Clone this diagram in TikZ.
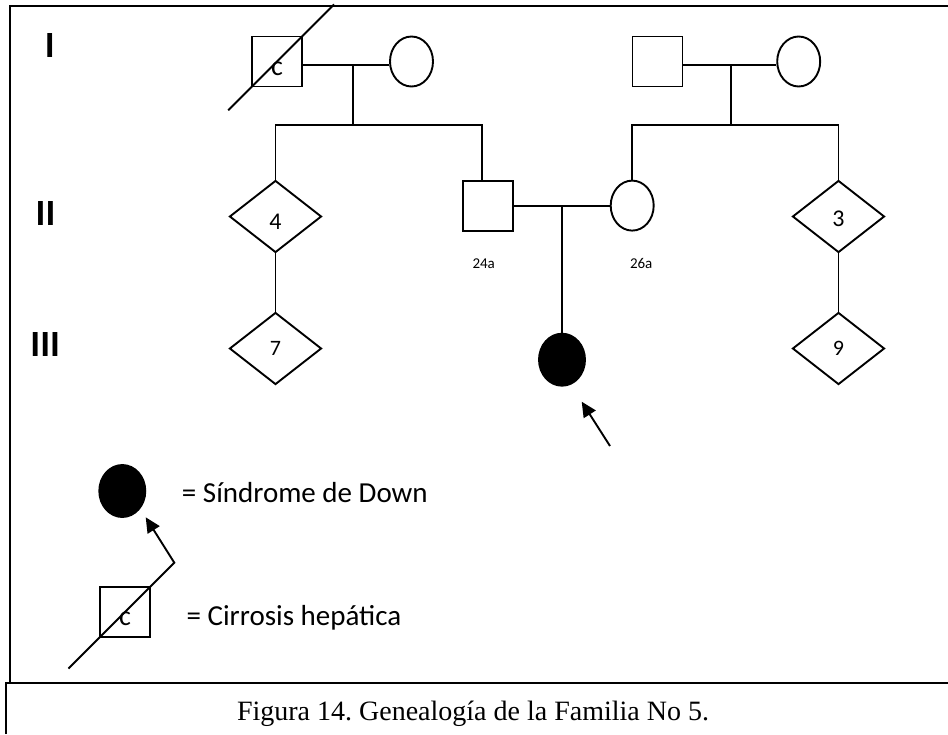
\documentclass[tikz,border=0pt]{standalone}
\usepackage{fontspec}
\setmainfont{Carlito}
\newfontfamily\capfont{Liberation Serif}
\usetikzlibrary{shapes.geometric,arrows.meta,calc}
\frenchspacing

\begin{document}
\begin{tikzpicture}[x=1pt,y=-1pt,line width=1.9pt,
  male/.style={draw, rectangle, minimum size=50pt, inner sep=0pt},
  female/.style={draw, ellipse, minimum width=43pt, minimum height=50pt, inner sep=0pt},
  unknown/.style={draw, diamond, minimum width=92pt, minimum height=72pt, inner sep=0pt},
  affected/.style={fill=black, minimum width=46pt, minimum height=52pt},
  cmark/.style={font=\fontsize{28}{30}\selectfont, text height=#1, text depth=0pt},
  num/.style={font=\fontsize{#1}{28}\selectfont},
  gen/.style={font=\fontsize{37}{40}\selectfont\bfseries, inner sep=0pt},
  age/.style={font=\fontsize{15}{18}\selectfont, inner sep=0pt, anchor=base},
  legendtext/.style={font=\fontsize{29}{32}\selectfont, inner sep=0pt, anchor=base west},
  pointer/.style={-{Triangle[length=15pt,width=14pt]}},
]
\useasboundingbox (0,0) rectangle (948,734);

% outer frame and caption box
\draw (10,683) -- (10,6) -- (948,6);
\draw (6,734) -- (6,683) -- (948,683);
\node[anchor=base, inner sep=0pt, font=\capfont\fontsize{28}{32}\selectfont] (caption)
  at (473,720) {Figura 14. Genealogía de la Familia No 5.};

% generation numerals
\node[gen] (gI)   at (49.8,46)  {I};
\node[gen] (gII)  at (45.5,213) {II};
\node[gen] (gIII) at (45.2,344) {III};

% generation I
\node[male, cmark=27pt] (i1) at (277,61.5) {c};
\node[female] (i2) at (411.5,61.5) {};
\node[male]   (i3) at (657.5,61.5) {};
\node[female] (i4) at (798.7,61.5) {};

% generation II
\node[unknown, num=24, text height=25pt, text depth=0pt] (ii1) at (275.5,216.5) {4};
\node[male]   (ii2) at (488.2,205.6) {};
\node[female] (ii3) at (632.2,205.6) {};
\node[unknown, num=24, text height=20.5pt, text depth=0pt] (ii4) at (838.5,216.5) {3};
\node[age] (a24) at (483.7,268.3) {24a};
\node[age] (a26) at (641.2,268.3) {26a};

% generation III
\node[unknown, num=22] (iii1) at (275.5,348.5) {7};
\node[female, affected] (iii2) at (562,359.7) {};
\node[unknown, num=22] (iii3) at (838.5,348.5) {9};

% deceased mark
\draw ($(i1.south west)!-0.44!(i1.north east)$) -- ($(i1.south west)!1.6!(i1.north east)$);

% left family of generation I
\coordinate (m1) at (352.7,65);
\coordinate (s1) at (352.7,125);
\draw (i1.east |- m1) -- (i2.west |- m1);
\draw (m1) -- (s1);
\draw (ii1.north) -- (ii1.north |- s1) -- ($(ii2.north |- s1)+(-6,0)$) -- ($(ii2.north)+(-6,0)$);

% right family of generation I
\coordinate (m2) at (731,65);
\coordinate (s2) at (731,125);
\draw (i3.east |- m2) -- (i4.west |- m2);
\draw (m2) -- (s2);
\draw (ii3.north) -- (ii3.north |- s2) -- (ii4.north |- s2) -- (ii4.north);

% generation II couple and descendants
\draw (ii2.east) -- (ii3.west);
\coordinate (m3) at ($(ii2.east)!0.5!(ii3.west)$);
\draw (m3) -- (iii2.north);
\draw (ii1.south) -- (iii1.north);
\draw (ii4.south) -- (iii3.north);

% proband arrow
\coordinate (pa) at (610,446);
\coordinate (pb) at (581.7,401.7);
\draw[pointer] (pa) -- (pb);

% legend
\node[female, affected] (l1) at (122.3,491) {};
\node[legendtext] (t1) at (181,502.7) {= Síndrome de Down};
\node[male, cmark=26pt] (l2) at (125,612) {c};
\node[legendtext] (t2) at (185.7,625.7) {= Cirrosis hepática};
\coordinate (lk) at ($(l2.south west)!1.45!(l2.north east)$);
\coordinate (lt) at (145.7,517.3);
\draw[pointer] ($(l2.south west)!-0.59!(l2.north east)$) -- (lk) -- (lt);
\end{tikzpicture}
\end{document}
